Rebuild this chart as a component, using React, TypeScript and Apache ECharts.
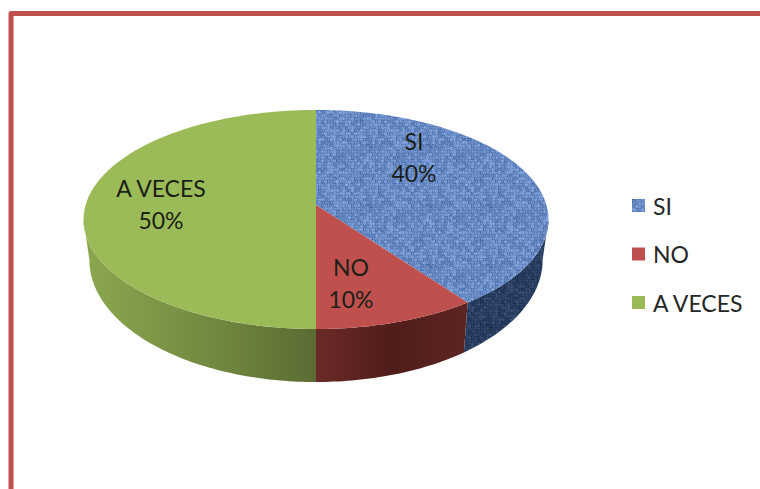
import React, { useEffect, useRef } from "react";
import * as echarts from "echarts";

const categories = ["SI", "NO", "A VECES"];
const values = [40, 10, 50];
const topColors = ["#6A8FCB", "#C0504D", "#9BBB59"];
const wallStops = [
  ["#2B3F63", "#2B3F63"],
  ["#6B2A28", "#501D1A", "#5C2523"],
  ["#8BA84E", "#748C42", "#5A6C33"],
];
const labelCenters = [
  [414, 156.5],
  [351, 283],
  [161, 204],
];

const CX = 316;
const CY = 205;
const A = 230.4;
const K = 107.6;
const P = 0.1324;
const Y_BOTTOM = 243.7;
const K_BOTTOM = 120;
const X_BOTTOM = 0.975;
const FONT = "Lato, Carlito, 'Noto Sans', sans-serif";

function makeWeave(r: number, g: number, b: number, amp: number) {
  const size = 60;
  const c = document.createElement("canvas");
  c.width = size;
  c.height = size;
  const ctx = c.getContext("2d")!;
  for (let y = 0; y < size; y++) {
    for (let x = 0; x < size; x++) {
      const cx = Math.floor(x / 3);
      const cy = Math.floor(y / 3);
      const over = (cx + cy) % 2 === 0;
      const ridge = over ? [-0.7, 0.7, -0.1][y % 3] : [-0.7, 0.7, -0.1][x % 3];
      const h = Math.sin(x * 12.9898 + y * 78.233) * 43758.5453;
      const hc = Math.sin(cx * 39.346 + cy * 11.135) * 24634.6345;
      const grain = (h - Math.floor(h) - 0.5) * 0.6 + (hc - Math.floor(hc) - 0.5) * 0.9;
      const d = (ridge * 0.4 + grain) * amp;
      ctx.fillStyle = `rgb(${Math.round(r + d)},${Math.round(g + d)},${Math.round(b + d)})`;
      ctx.fillRect(x, y, 1, 1);
    }
  }
  return c;
}

function rim(deg: number, bottom: boolean): number[] {
  const t = (deg * Math.PI) / 180;
  const u = Math.sin(t);
  const v = -Math.cos(t);
  const w = 1 - P * v;
  if (bottom) return [CX + (X_BOTTOM * A * u) / w, Y_BOTTOM + (K_BOTTOM * v) / w];
  return [CX + (A * u) / w, CY + (K * v) / w];
}

const WALL_FROM = (Math.acos(-P) * 180) / Math.PI;
const WALL_TO = 360 - WALL_FROM;

function arc(a0: number, a1: number, bottom: boolean) {
  const pts: number[][] = [];
  const n = Math.max(2, Math.ceil(a1 - a0));
  for (let i = 0; i <= n; i++) pts.push(rim(a0 + ((a1 - a0) * i) / n, bottom));
  return pts;
}

export default function App() {
  const ref = useRef<HTMLDivElement>(null);
  useEffect(() => {
    document.body.style.margin = "0";
    const chart = echarts.init(ref.current!, undefined, { renderer: "svg" });
    const total = values.reduce((a, b) => a + b, 0);
    const blueTop = { image: makeWeave(106, 140, 198, 38), repeat: "repeat" };
    const blueWall = { image: makeWeave(43, 63, 99, 24), repeat: "repeat" };

    let acc = 0;
    const series = categories.map((name, i) => {
      const start = (acc / total) * 360;
      acc += values[i];
      const end = (acc / total) * 360;
      const pct = `${Math.round((values[i] / total) * 100)}%`;
      return {
        type: "custom",
        name,
        coordinateSystem: "none",
        silent: true,
        itemStyle: { color: topColors[i] },
        data: [[start, end]],
        renderItem: (_p: any, api: any) => {
          const a0 = api.value(0);
          const a1 = api.value(1);
          const children: any[] = [];
          const w0 = Math.max(a0, WALL_FROM);
          const w1 = Math.min(a1, WALL_TO);
          if (w1 > w0) {
            const stops = wallStops[i];
            const wallFill =
              i === 0
                ? blueWall
                : {
                    type: "linear",
                    x: 0,
                    y: 0,
                    x2: 1,
                    y2: 0,
                    colorStops: stops.map((color, k) => ({ offset: k / (stops.length - 1), color })),
                  };
            children.push({
              type: "polygon",
              shape: { points: [...arc(w0, w1, false), ...arc(w0, w1, true).reverse()] },
              style: { fill: wallFill, stroke: null },
            });
          }
          children.push({
            type: "polygon",
            shape: { points: [[CX, CY], ...arc(a0, a1, false)] },
            style: { fill: i === 0 ? blueTop : topColors[i], stroke: null },
          });
          children.push({
            type: "text",
            x: labelCenters[i][0],
            y: labelCenters[i][1],
            style: {
              text: `${name}\n${pct}`,
              fill: "#1B1F16",
              font: `23px ${FONT}`,
              lineHeight: 32,
              align: "center",
              verticalAlign: "middle",
            },
          });
          return { type: "group", children };
        },
      };
    });

    chart.setOption({
      animation: false,
      backgroundColor: "#FFFFFF",
      legend: {
        orient: "vertical",
        left: 627,
        top: 189,
        itemWidth: 13,
        itemHeight: 13,
        itemGap: 25.5,
        selectedMode: false,
        icon: "rect",
        textStyle: { fontFamily: FONT, fontSize: 23, color: "#262626", padding: [0, 0, 0, 3] },
        data: categories.map((name, i) => ({
          name,
          itemStyle: { color: i === 0 ? blueTop : topColors[i] },
        })),
      },
      graphic: [
        {
          type: "polyline",
          shape: { points: [[11, 489], [11, 13.5], [760, 13.5]] },
          style: { stroke: "#C0504D", lineWidth: 5, fill: null, lineJoin: "round" },
          silent: true,
        },
      ],
      series,
    });
    return () => chart.dispose();
  }, []);
  return <div ref={ref} style={{ width: 760, height: 489 }} />;
}
